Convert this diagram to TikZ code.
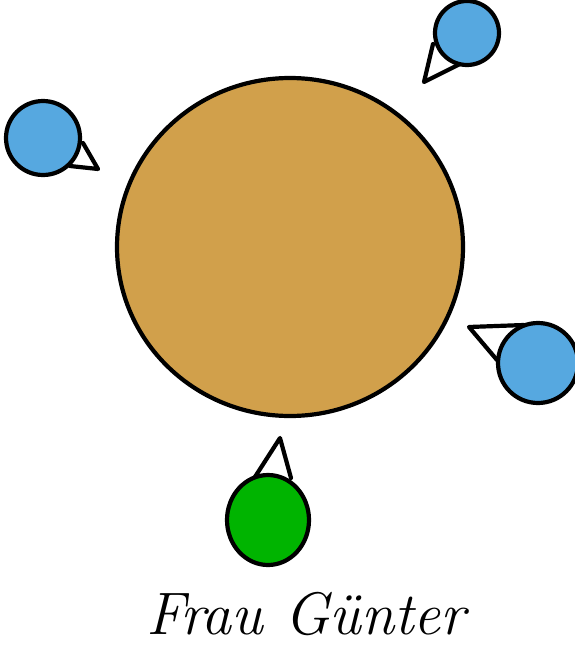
\documentclass[tikz,border=0pt]{standalone}
\usetikzlibrary{shapes.geometric}
\definecolor{tablecol}{RGB}{209,160,75}
\definecolor{bluecol}{RGB}{86,168,224}
\definecolor{greencol}{RGB}{0,180,0}
\begin{document}
\begin{tikzpicture}[x=1pt,y=-1pt,
  ink/.style={draw=black,line width=4.2pt,line join=round,line cap=round},
  guest/.style={ink,circle,fill=bluecol,inner sep=0pt},
  host/.style={ink,ellipse,fill=greencol,inner sep=0pt},
  nose/.style={ink}]
\useasboundingbox (0,0) rectangle (575,648);
% table
\node[ink,ellipse,fill=tablecol,minimum width=346pt,minimum height=338pt,inner sep=0pt] (table) at (290,247) {};
% left guest
\draw[nose] (83,143) -- (98,169) -- (70,166);
\node[guest,minimum size=74pt] (g1) at (43,138) {};
% top-right guest
\draw[nose] (433,44) -- (424,82) -- (466,61);
\node[guest,minimum size=64pt] (g2) at (467,33) {};
% right guest
\draw[nose] (497,360) -- (469,327) -- (524,325);
\node[guest,minimum size=80pt] (g3) at (538,363) {};
% host (green)
\draw[nose] (253,480) -- (280,438) -- (291,478);
\node[host,minimum width=82pt,minimum height=90pt] (host) at (268,520) {};
% label
\node[font=\fontsize{60}{66}\selectfont\itshape] (label) at (306,614) {Frau Günter};
\end{tikzpicture}
\end{document}
